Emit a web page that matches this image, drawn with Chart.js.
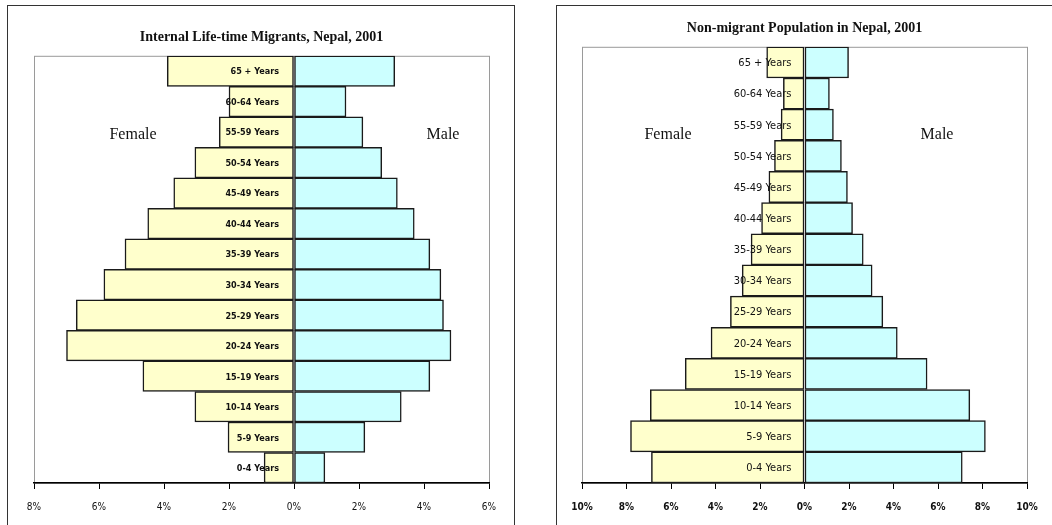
<!DOCTYPE html>
<html>
<head>
<meta charset="utf-8">
<script src="https://cdn.jsdelivr.net/npm/chart.js@4"></script>
<style>
  html, body { margin: 0; padding: 0; background: #fff; overflow: hidden; }
  .frame { position: absolute; border: 1px solid #333; background: #fff; }
  #box1 { left: 7px; top: 5px; width: 506px; height: 540px; }
  #box2 { left: 556px; top: 5px; width: 510px; height: 540px; }
  canvas { display: block; }
</style>
</head>
<body>
<div class="frame" id="box1"><canvas id="migrants" width="506" height="520"></canvas></div>
<div class="frame" id="box2"><canvas id="nonmigrants" width="510" height="520"></canvas></div>
<script>
// age groups, top to bottom
const ageGroups = ['65 + Years', '60-64 Years', '55-59 Years', '50-54 Years', '45-49 Years',
  '40-44 Years', '35-39 Years', '30-34 Years', '25-29 Years', '20-24 Years',
  '15-19 Years', '10-14 Years', '5-9 Years', '0-4 Years'];

// internal life-time migrants (% of total)
const migrantFemale = [3.9, 2.0, 2.3, 3.05, 3.7, 4.5, 5.2, 5.85, 6.7, 7.0, 4.65, 3.05, 2.03, 0.92];
const migrantMale = [3.1, 1.6, 2.12, 2.7, 3.18, 3.7, 4.18, 4.52, 4.6, 4.83, 4.18, 3.3, 2.18, 0.95];

// non-migrant population (% of total)
const nonMigrantFemale = [1.7, 0.95, 1.05, 1.35, 1.6, 1.93, 2.4, 2.8, 3.33, 4.2, 5.36, 6.93, 7.82, 6.88];
const nonMigrantMale = [1.98, 1.12, 1.3, 1.66, 1.93, 2.16, 2.64, 3.04, 3.52, 4.17, 5.51, 7.43, 8.13, 7.09];

const femaleColor = '#ffffcc';
const maleColor = '#ccffff';
const edgeColor = '#1a1a1a';

function pyramid(canvasId, opts) {
  const labelPlugin = {
    id: 'pyramidExtras',
    beforeDraw(chart) {
      const ctx = chart.ctx;
      const a = chart.chartArea;
      ctx.save();
      ctx.strokeStyle = '#9a9a9a';
      ctx.lineWidth = 1;
      ctx.strokeRect(a.left + 0.5, a.top + 0.5, a.width, a.height);
      ctx.restore();
    },
    afterDatasetsDraw(chart) {
      const ctx = chart.ctx;
      const sx = chart.scales.x;
      const sy = chart.scales.y;
      const zero = sx.getPixelForValue(0);
      ctx.save();
      ctx.fillStyle = '#111';
      ctx.font = opts.barFont;
      ctx.textAlign = 'right';
      ctx.textBaseline = 'middle';
      chart.data.labels.forEach((lab, i) => {
        ctx.fillText(lab, zero - opts.labelGap, sy.getPixelForValue(i) + 1);
      });
      ctx.font = '16px "Liberation Serif", "DejaVu Serif", serif';
      ctx.textAlign = 'center';
      ctx.fillText('Female', opts.femaleX, opts.sideY);
      ctx.fillText('Male', opts.maleX, opts.sideY);
      ctx.restore();
    }
  };

  return new Chart(document.getElementById(canvasId), {
    type: 'bar',
    data: {
      labels: ageGroups,
      datasets: [
        {
          label: 'Female',
          data: opts.female.map(v => -v),
          backgroundColor: femaleColor,
          borderColor: edgeColor,
          borderWidth: 1.5,
          borderSkipped: false,
        },
        {
          label: 'Male',
          data: opts.male,
          backgroundColor: maleColor,
          borderColor: edgeColor,
          borderWidth: 1.5,
          borderSkipped: false,
        },
      ],
    },
    options: {
      indexAxis: 'y',
      responsive: false,
      animation: false,
      barPercentage: 1,
      categoryPercentage: 1,
      layout: { padding: opts.padding },
      scales: {
        x: {
          stacked: true,
          min: opts.min,
          max: opts.max,
          afterFit: (scale) => { scale.height = 40; },
          ticks: {
            stepSize: 2,
            padding: 12,
            color: '#111',
            font: opts.tickFont,
            callback: (v) => Math.abs(v) + '%',
          },
          grid: {
            drawOnChartArea: false,
            drawTicks: true,
            tickLength: 6,
            color: '#000',
          },
          border: { display: true, color: '#000', width: 1.5 },
        },
        y: {
          stacked: true,
          display: false,
        },
      },
      plugins: {
        legend: { display: false },
        tooltip: { enabled: false },
        title: {
          display: true,
          text: opts.title,
          color: '#111',
          font: { family: '"Liberation Serif", "DejaVu Serif", serif', size: 14, weight: 'bold' },
          padding: opts.titlePadding,
        },
      },
    },
    plugins: [labelPlugin],
  });
}

pyramid('migrants', {
  title: 'Internal Life-time Migrants, Nepal, 2001',
  female: migrantFemale,
  male: migrantMale,
  min: -8,
  max: 6,
  padding: { left: 26, right: 25, top: 0, bottom: 3 },
  titlePadding: { top: 23, bottom: 10 },
  barFont: 'bold 9px "DejaVu Sans Condensed", "DejaVu Sans", sans-serif',
  tickFont: { family: '"DejaVu Sans Condensed", "DejaVu Sans", sans-serif', size: 10 },
  labelGap: 15,
  femaleX: 125,
  maleX: 435,
  sideY: 129,
});

pyramid('nonmigrants', {
  title: 'Non-migrant Population in Nepal, 2001',
  female: nonMigrantFemale,
  male: nonMigrantMale,
  min: -10,
  max: 10,
  padding: { left: 25, right: 40, top: 0, bottom: 3 },
  titlePadding: { top: 14, bottom: 10 },
  barFont: '11px "Liberation Sans Narrow", "DejaVu Sans Condensed", sans-serif',
  tickFont: { family: '"Liberation Sans Narrow", "DejaVu Sans Condensed", sans-serif', size: 10, weight: 'bold' },
  labelGap: 13,
  femaleX: 111,
  maleX: 380,
  sideY: 129,
});
</script>
</body>
</html>
